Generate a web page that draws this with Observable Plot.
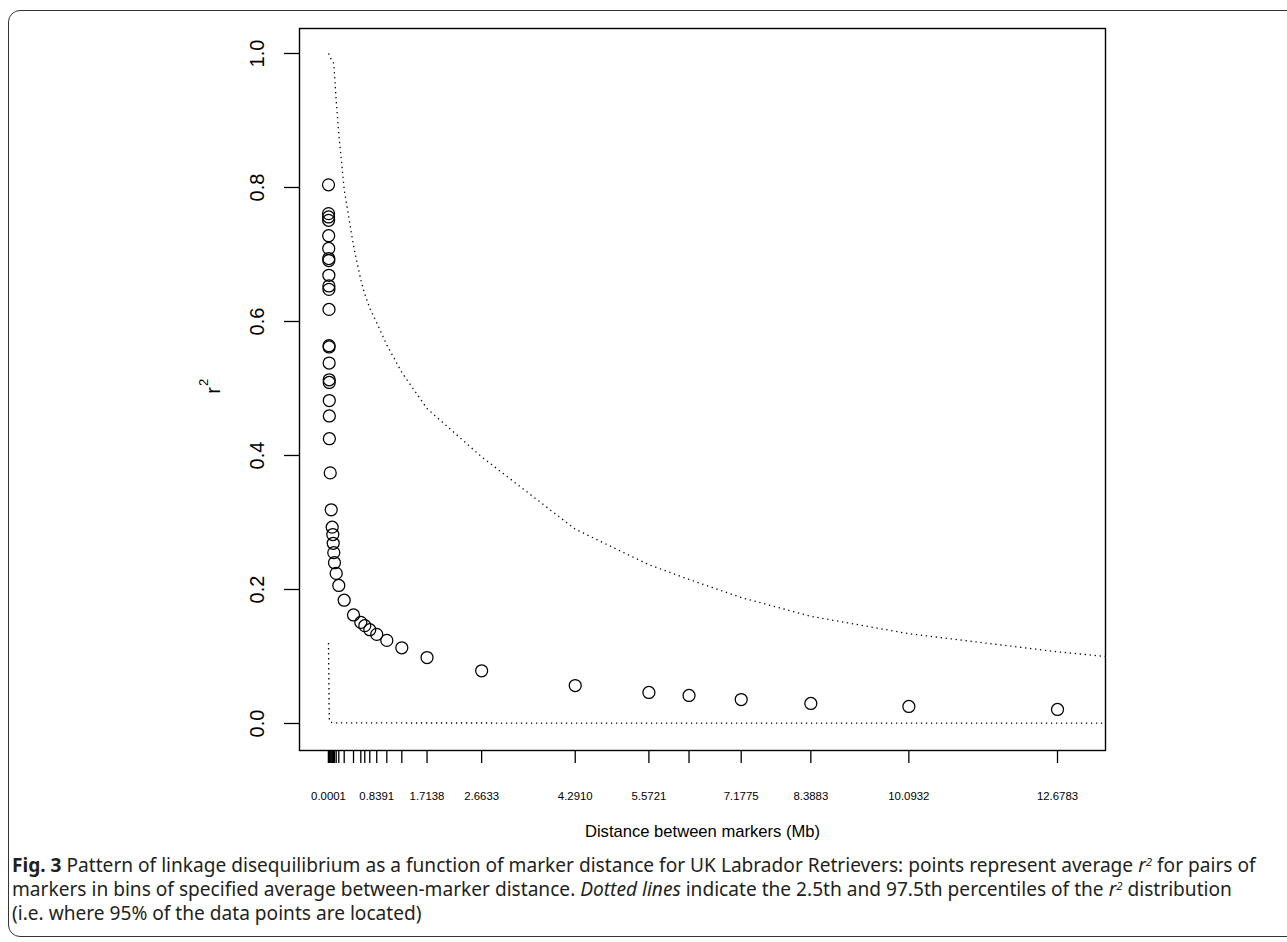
<!DOCTYPE html>
<html>
<head>
<meta charset="utf-8">
<script src="https://cdn.jsdelivr.net/npm/d3@7"></script>
<script src="https://cdn.jsdelivr.net/npm/@observablehq/plot@0.6"></script>
<style>
  html, body { margin: 0; padding: 0; background: #fff; overflow: hidden; }
  body { width: 1287px; height: 942px; position: relative; }
  #box { position: absolute; left: 8px; top: 10px; width: 1300px; height: 927px;
         border: 1.5px solid #333; border-radius: 12px; box-sizing: border-box; }
  #chart { position: absolute; left: 0; top: 0; }
  #caption { position: absolute; left: 12px; top: 853px; font-family: "Noto Sans", sans-serif;
             font-size: 16px; line-height: 24px; color: #231f20; white-space: nowrap; }
  #caption i sup { font-size: 0.6em; line-height: 0; vertical-align: 0.5em; }
</style>
</head>
<body>
<div id="box"></div>
<div id="chart"></div>
<div id="caption">
  <div id="cap1"><b>Fig. 3</b> Pattern of linkage disequilibrium as a function of marker distance for UK Labrador Retrievers: points represent average <i>r<sup>2</sup></i> for pairs of</div>
  <div id="cap2">markers in bins of specified average between-marker distance. <i>Dotted lines</i> indicate the 2.5th and 97.5th percentiles of the <i>r<sup>2</sup></i> distribution</div>
  <div id="cap3">(i.e. where 95% of the data points are located)</div>
</div>
<script>
// Average distance of each bin (Mb)
const binDistance = [
  0.0001, 0.0009, 0.0016, 0.0024, 0.0031, 0.0040, 0.0047, 0.0055, 0.0063, 0.0071,
  0.0079, 0.0088, 0.0096, 0.0104, 0.0112, 0.0121, 0.0129, 0.0137, 0.0146, 0.0155,
  0.030, 0.047, 0.064, 0.075, 0.082, 0.092, 0.104, 0.134, 0.179, 0.273,
  0.435, 0.562, 0.631, 0.718, 0.8391, 1.014, 1.275, 1.7138, 2.6633, 4.2910,
  5.5721, 6.2700, 7.1775, 8.3883, 10.0932, 12.6783
];
// Average r^2 of each bin
const binR2 = [
  0.804, 0.761, 0.756, 0.751, 0.728, 0.709, 0.694, 0.691, 0.669, 0.653,
  0.648, 0.618, 0.564, 0.562, 0.538, 0.513, 0.509, 0.482, 0.459, 0.425,
  0.374, 0.319, 0.293, 0.282, 0.269, 0.255, 0.240, 0.224, 0.206, 0.184,
  0.162, 0.151, 0.146, 0.140, 0.133, 0.124, 0.113, 0.0985, 0.0787, 0.0567,
  0.0463, 0.0418, 0.0358, 0.0299, 0.0254, 0.0209
];
// 97.5th percentile curve (vertices at bin distances)
const upperDistance = [0.0001, 0.0155, 0.030, 0.092, 0.134, 0.179, 0.273, 0.435, 0.562, 0.631, 0.718, 0.8391, 1.014, 1.275, 1.7138, 2.6633, 4.2910, 5.5721, 6.2700, 7.1775, 8.3883, 10.0932, 12.6783, 13.51];
const upperR2 = [1.0, 0.998, 0.994, 0.985, 0.93, 0.88, 0.797, 0.713, 0.662, 0.641, 0.62, 0.598, 0.565, 0.524, 0.470, 0.398, 0.290, 0.237, 0.215, 0.188, 0.160, 0.134, 0.107, 0.100];
// 2.5th percentile curve
const lowerDistance = [0.0001, 0.002, 0.004, 0.006, 0.008, 0.010, 0.012, 0.015, 0.03, 0.1, 1, 5, 13.51];
const lowerR2 = [0.12, 0.10, 0.085, 0.07, 0.05, 0.03, 0.015, 0.005, 0.002, 0.001, 0.0008, 0.0006, 0.0005];
// Axis labels
const xTickLabels = [0.0001, 0.8391, 1.7138, 2.6633, 4.2910, 5.5721, 7.1775, 8.3883, 10.0932, 12.6783];
const yTicks = [0, 0.2, 0.4, 0.6, 0.8, 1.0];

const points = binDistance.map((d, i) => ({d, r2: binR2[i]}));
const upper = upperDistance.map((d, i) => ({d, r2: upperR2[i]}));
const lower = lowerDistance.map((d, i) => ({d, r2: lowerR2[i]}));

const dotted = {stroke: "#000", strokeWidth: 1.3, strokeDasharray: "1.3 3.7", strokeLinecap: "butt"};

const chart = Plot.plot({
  width: 1287,
  height: 850,
  marginLeft: 299,
  marginRight: 182,
  marginTop: 28,
  marginBottom: 100,
  style: {fontFamily: "'Liberation Sans', Arial, sans-serif", color: "#000", background: "transparent", overflow: "visible"},
  x: {domain: [-0.5043, 13.513]},
  y: {domain: [-0.0403, 1.0373]},
  marks: [
    Plot.line(upper, {x: "d", y: "r2", curve: "linear", ...dotted}),
    Plot.line(lower, {x: "d", y: "r2", curve: "linear", ...dotted}),
    Plot.dot(points, {x: "d", y: "r2", r: 6, stroke: "#000", fill: "none", strokeWidth: 1.25}),
    Plot.frame({stroke: "#000", strokeWidth: 1.4}),
    Plot.axisX({ticks: binDistance, tickSize: 13, tickPadding: 28, fontSize: 11.4, label: null,
      tickFormat: d => xTickLabels.includes(d) ? d3.format(".4f")(d) : "", strokeWidth: 1.3}),
    Plot.axisY({ticks: yTicks, tickSize: 15, tickFormat: () => "", label: null, strokeWidth: 1.3}),
    Plot.text(yTicks, {y: d => d, text: d => d3.format(".1f")(d), frameAnchor: "left", dx: -42,
      rotate: -90, fontSize: 20, textAnchor: "middle", lineAnchor: "middle", fill: "#000"}),
    Plot.text(["r"], {frameAnchor: "left", dx: -85.5, dy: 1, rotate: -90, fontSize: 20,
      textAnchor: "middle", lineAnchor: "middle", fill: "#000"}),
    Plot.text(["2"], {frameAnchor: "left", dx: -96, dy: -7, rotate: -90, fontSize: 13,
      textAnchor: "middle", lineAnchor: "middle", fill: "#000"}),
    Plot.text(["Distance between markers (Mb)"], {frameAnchor: "bottom", dy: 81, fontSize: 16.6,
      textAnchor: "middle", lineAnchor: "middle", fill: "#000"})
  ]
});
document.getElementById("chart").append(chart);

// fit caption font size so the first line spans the same width as in the figure
const cap = document.getElementById("caption");
const c1 = document.getElementById("cap1");
const w = c1.getBoundingClientRect().width;
const fs = 16 * 1245 / w;
cap.style.fontSize = fs.toFixed(2) + "px";
</script>
</body>
</html>
